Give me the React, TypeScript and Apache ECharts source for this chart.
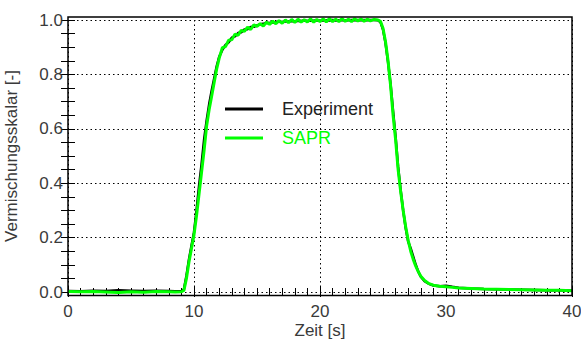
import React, { useEffect, useRef } from "react";
import * as echarts from "echarts";

// Zeit [s]
const zeit = [
  0, 1, 2, 3, 4, 5, 6, 7, 8,
  8.5, 9,
  9.2, 9.4, 9.6, 9.8,
  10, 10.2, 10.4, 10.6, 10.8, 11, 11.2, 11.4, 11.6, 11.8, 12,
  12.25, 12.5, 12.75, 13, 13.25, 13.5, 13.75, 14, 14.25, 14.5, 14.75, 15,
  15.25, 15.5, 15.75, 16, 16.25, 16.5, 16.75, 17, 17.25, 17.5, 17.75, 18,
  18.25, 18.5, 18.75, 19, 19.25, 19.5, 19.75, 20, 20.25, 20.5, 20.75, 21,
  21.25, 21.5, 21.75, 22, 22.25, 22.5, 22.75, 23, 23.25, 23.5, 23.75, 24,
  24.3, 24.6, 24.8,
  25, 25.2, 25.4, 25.6, 25.8, 26, 26.2, 26.4, 26.6, 26.8, 27, 27.2, 27.4, 27.6, 27.8, 28,
  28.3, 28.6, 29, 29.5, 30, 30.5, 31,
  32, 33, 34, 35, 36, 37, 38, 39, 40,
];

const experiment = [
  0.004, 0.003, 0.005, 0.004, 0.006, 0.005, 0.004, 0.005, 0.004,
  0.003, 0.003,
  0.01, 0.06, 0.12, 0.17,
  0.22, 0.3, 0.39, 0.47, 0.56, 0.63, 0.69, 0.74, 0.785, 0.83, 0.865,
  0.89, 0.908, 0.918, 0.935, 0.94, 0.952, 0.955, 0.965, 0.966, 0.974, 0.975, 0.98,
  0.984, 0.986, 0.99, 0.989, 0.992, 0.991, 0.994, 0.993, 0.995, 0.994, 0.996, 0.995,
  0.997, 0.996, 0.998, 0.996, 0.998, 0.997, 0.999, 0.997, 0.998, 0.999, 0.998, 1.0,
  0.998, 0.999, 1.0, 0.998, 0.999, 1.0, 0.999, 1.0, 0.999, 1.0, 0.999, 1.0,
  1.0, 0.999, 0.992,
  0.965, 0.915, 0.845, 0.765, 0.665, 0.57, 0.46, 0.375, 0.3, 0.235, 0.185, 0.16, 0.13, 0.1, 0.075, 0.056,
  0.04, 0.031, 0.024, 0.021, 0.023, 0.019, 0.016,
  0.013, 0.011, 0.01, 0.009, 0.008, 0.007, 0.006, 0.006, 0.005,
];

const sapr = [
  0.002, 0.001, 0.002, 0.0, -0.002, 0.001, -0.001, 0.002, 0.001,
  0.0, 0.001,
  0.006, 0.05, 0.11, 0.16,
  0.21, 0.28, 0.36, 0.44, 0.52, 0.61, 0.67, 0.72, 0.77, 0.82, 0.86,
  0.898, 0.902, 0.926, 0.927, 0.948, 0.944, 0.962, 0.958, 0.974, 0.965, 0.982, 0.977,
  0.986, 0.978, 0.992, 0.984, 0.996, 0.986, 0.998, 0.988, 1.0, 0.99, 1.002, 0.991,
  1.003, 0.992, 1.001, 0.993, 1.004, 0.992, 1.002, 0.994, 1.004, 0.993, 1.005, 0.994,
  1.003, 0.994, 1.005, 0.995, 1.003, 0.994, 1.005, 0.996, 1.004, 0.995, 1.003, 0.997,
  1.002, 1.0, 0.995,
  0.97, 0.92, 0.85, 0.76, 0.65, 0.56, 0.45, 0.37, 0.3, 0.24, 0.19, 0.15, 0.12, 0.095, 0.075, 0.058,
  0.042, 0.032, 0.025, 0.021, 0.019, 0.017, 0.015,
  0.013, 0.011, 0.01, 0.009, 0.008, 0.007, 0.006, 0.006, 0.005,
];

const seriesNames = ["Experiment", "SAPR"];
const xTitle = "Zeit [s]";
const yTitle = "Vermischungsskalar [-]";

const FONT = "'Liberation Sans', Arial, sans-serif";
const TEXT = "#3a3a3a";
const GREEN = "#00ff00";

export default function App() {
  const ref = useRef<HTMLDivElement>(null);

  useEffect(() => {
    document.body.style.margin = "0";
    if (!ref.current) return;
    const chart = echarts.init(ref.current, null, { renderer: "svg" });

    const W = 581;
    const H = 339;
    const gLeft = 68;
    const gRight = 9;
    const gTop = 20;
    const gBottom = 47;
    const frameTop = 17;
    const frameBottom = 295.5;

    const dotted = { color: "#000", width: 1, type: [1.5, 3] as any };

    const xBase = {
      type: "value" as const,
      min: 0,
      max: 40,
      interval: 10,
      axisLine: { show: false },
      axisTick: { show: true, inside: true, length: 5, lineStyle: { color: "#000" } },
      minorTick: { show: true, splitNumber: 10, length: 4, lineStyle: { color: "#000" } },
      minorSplitLine: { show: false },
    };
    const yBase = {
      type: "value" as const,
      min: 0,
      max: 1,
      interval: 0.2,
      axisLine: { show: false },
      axisTick: { show: true, inside: true, length: 7, lineStyle: { color: "#000" } },
      minorTick: { show: true, splitNumber: 4, length: 7, lineStyle: { color: "#000" } },
      minorSplitLine: { show: false },
    };

    chart.setOption({
      animation: false,
      textStyle: { fontFamily: FONT },
      grid: {
        left: gLeft,
        right: gRight,
        top: gTop,
        bottom: gBottom,
        containLabel: false,
        outerBoundsMode: "none",
      },
      legend: {
        orient: "vertical",
        left: 220,
        top: 95,
        itemWidth: 38,
        itemHeight: 3,
        itemGap: 11,
        icon: "rect",
        textStyle: { fontSize: 18, fontFamily: FONT, padding: [0, 0, 0, 14] },
        data: [
          { name: seriesNames[0], textStyle: { color: "#222" } },
          { name: seriesNames[1], textStyle: { color: GREEN } },
        ],
      },
      xAxis: [
        {
          ...xBase,
          position: "bottom",
          offset: frameBottom - (H - gBottom),
          name: xTitle,
          nameLocation: "middle",
          nameGap: 26,
          nameMoveOverlap: false,
          nameTextStyle: { fontSize: 17, color: TEXT, fontFamily: FONT },
          axisLabel: { fontSize: 17, color: TEXT, margin: 7, fontFamily: FONT },
          splitLine: { show: true, lineStyle: dotted },
        },
        {
          ...xBase,
          position: "top",
          offset: gTop - frameTop,
          axisLabel: { show: false },
          splitLine: { show: false },
        },
      ],
      yAxis: [
        {
          ...yBase,
          position: "left",
          name: yTitle,
          nameLocation: "middle",
          nameGap: 48,
          nameMoveOverlap: false,
          nameTextStyle: { fontSize: 17, color: TEXT, fontFamily: FONT },
          axisLabel: {
            fontSize: 17,
            color: TEXT,
            margin: 5,
            fontFamily: FONT,
            formatter: (v: number) => v.toFixed(1),
          },
          splitLine: { show: true, lineStyle: dotted },
        },
        {
          ...yBase,
          position: "right",
          axisLabel: { show: false },
          splitLine: { show: false },
        },
      ],
      graphic: [
        {
          type: "rect",
          shape: { x: gLeft, y: frameTop, width: W - gLeft - gRight, height: frameBottom - frameTop },
          style: { fill: "none", stroke: "#000", lineWidth: 1.5 },
          silent: true,
          z: 100,
        },
      ],
      series: [
        {
          name: seriesNames[0],
          type: "line",
          xAxisIndex: 0,
          yAxisIndex: 0,
          data: zeit.map((t, i) => [t, experiment[i]]),
          showSymbol: false,
          clip: false,
          lineStyle: { color: "#000", width: 2.5 },
          itemStyle: { color: "#000" },
          z: 2,
        },
        {
          name: seriesNames[1],
          type: "line",
          xAxisIndex: 0,
          yAxisIndex: 0,
          data: zeit.map((t, i) => [t, sapr[i]]),
          showSymbol: false,
          clip: false,
          lineStyle: { color: GREEN, width: 3 },
          itemStyle: { color: GREEN },
          z: 3,
        },
      ],
    });

    return () => chart.dispose();
  }, []);

  return <div ref={ref} style={{ width: 581, height: 339 }} />;
}
